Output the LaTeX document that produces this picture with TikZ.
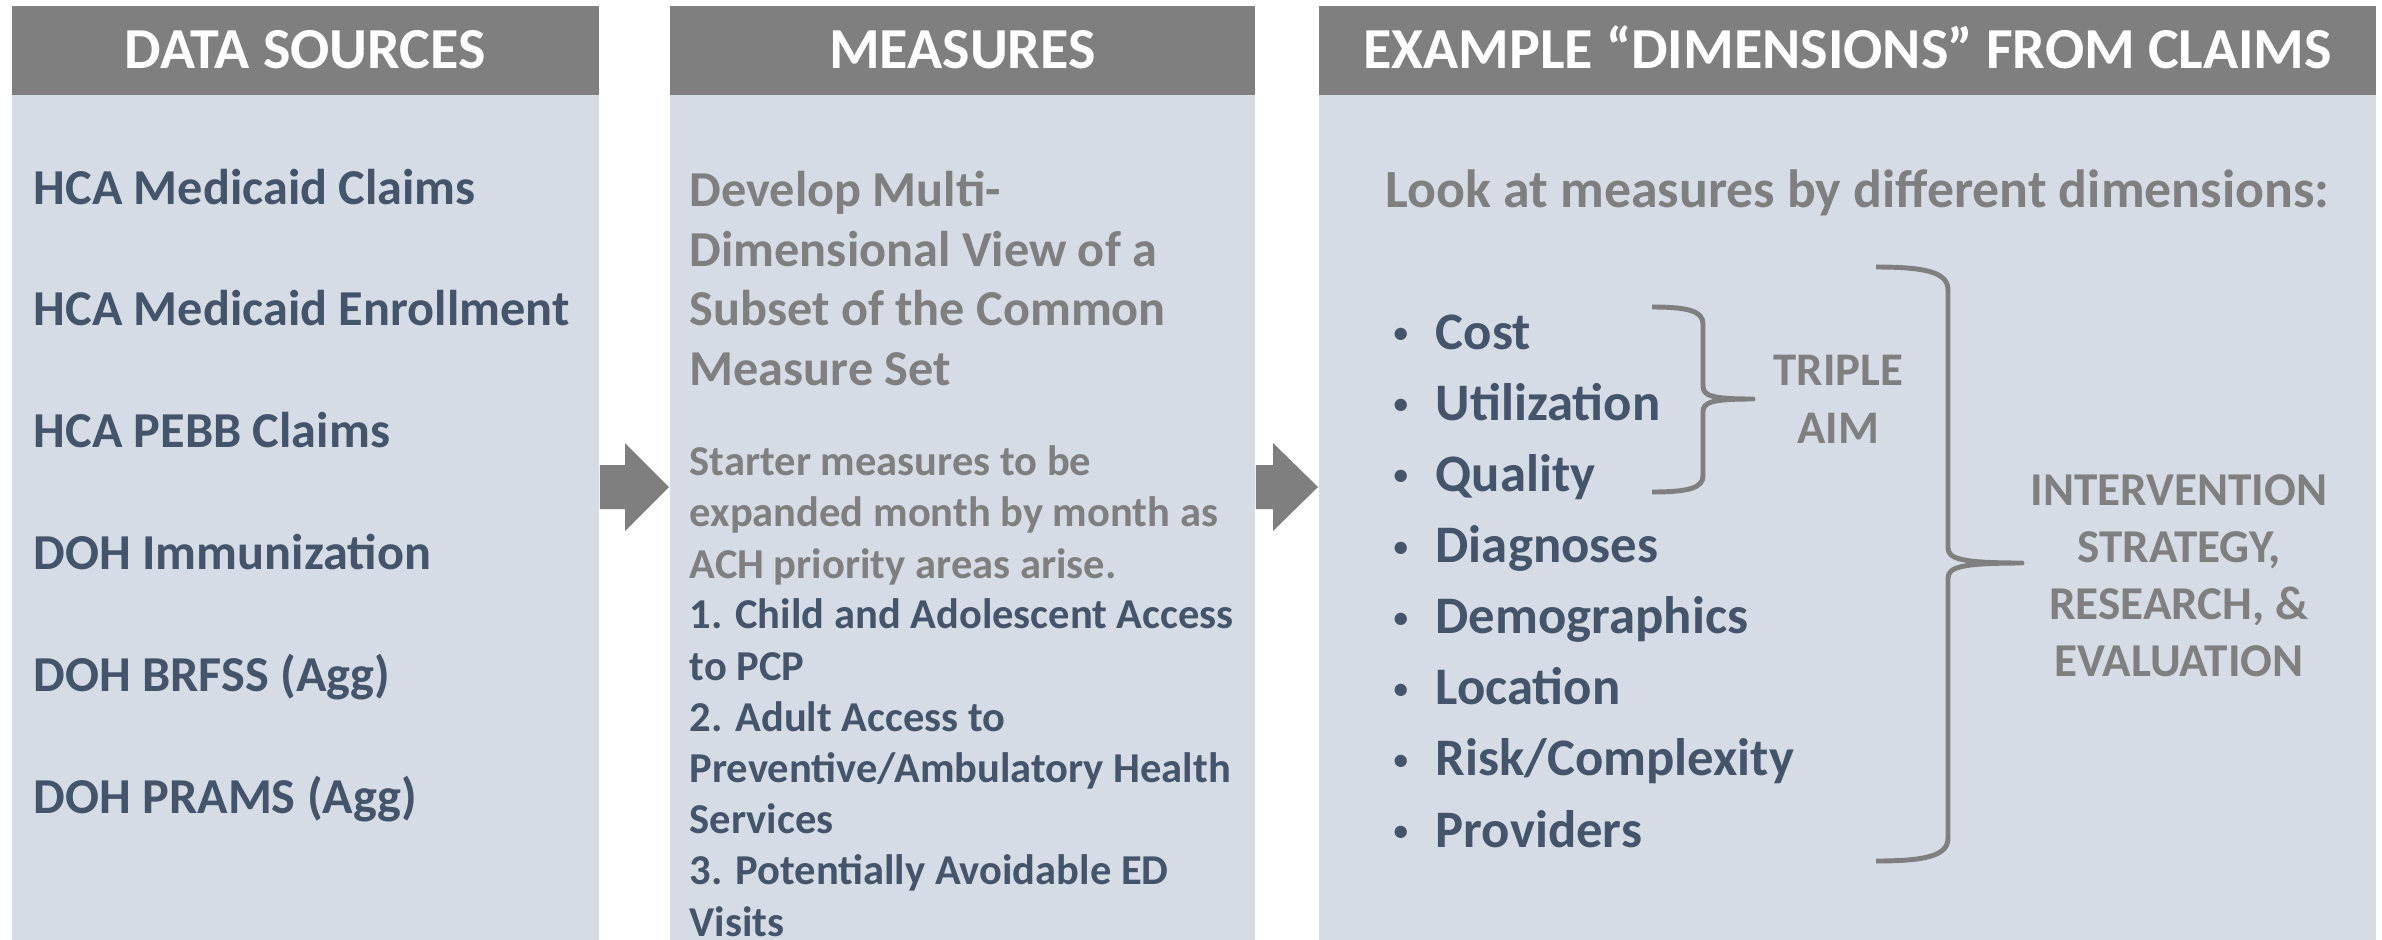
\documentclass[tikz,border=0pt]{standalone}
\usepackage{fontspec}
\setmainfont{Carlito}
\usetikzlibrary{positioning, calc}

\definecolor{headgray}{HTML}{7F7F7F}
\definecolor{panelblue}{HTML}{D6DCE5}
\definecolor{textblue}{HTML}{44546A}
\definecolor{textgray}{HTML}{7F7F7F}

\newcommand{\dimdot}{\makebox[0.42cm][l]{\raisebox{0.12em}{\scalebox{0.55}{\textbullet}}}}

\begin{document}
\begin{tikzpicture}[
    x=0.01cm, y=-0.01cm,
    header/.style={fill=headgray, text=white, font=\bfseries\fontsize{16.5}{20}\selectfont, anchor=north west, inner sep=0pt, minimum height=0.89cm, text height=0.37cm, text depth=0pt},
    panel/.style={fill=panelblue, anchor=north west, inner sep=0pt, minimum height=8.45cm},
    source/.style={text=textblue, font=\bfseries\fontsize{14.3}{17}\selectfont, inner sep=0pt, text height=0.36cm, text depth=0.1cm},
    measlead/.style={text=textgray, font=\bfseries\fontsize{14.3}{16.9}\selectfont, align=left, inner sep=0pt},
    measnote/.style={text=textgray, font=\bfseries\fontsize{12.1}{14.56}\selectfont, align=left, inner sep=0pt},
    measlist/.style={text=textblue, font=\bfseries\fontsize{12.1}{14.56}\selectfont, align=left, inner sep=0pt},
    dimitem/.style={text=textblue, font=\bfseries\fontsize{15}{18}\selectfont, inner sep=0pt, text height=0.38cm, text depth=0.12cm},
    aimlabel/.style={text=textgray, font=\bfseries\fontsize{13.3}{16.5}\selectfont, align=center, inner sep=0pt},
    blockarrow/.style={fill=headgray},
    bracket/.style={draw=headgray, line width=1.4pt, line join=round},
    node distance=0.745cm
]
    \useasboundingbox (0,0) rectangle (2382,939);

    % Panels
    \node[header, minimum width=5.87cm] (srchead) at (11,5) {DATA SOURCES};
    \node[panel, minimum width=5.87cm] (srcbody) at (11,94) {};
    \node[header, minimum width=5.85cm] (meashead) at (669,5) {MEASURES};
    \node[panel, minimum width=5.85cm] (measbody) at (669,94) {};
    \node[header, minimum width=10.57cm] (dimhead) at (1318,5) {EXAMPLE “DIMENSIONS” FROM CLAIMS};
    \node[panel, minimum width=10.57cm] (dimbody) at (1318,94) {};

    % Data sources
    \node[source, anchor=base west] (hcaclaims) at (33,204) {HCA Medicaid Claims};
    \node[source, below=of hcaclaims.south west, anchor=north west] (hcaenroll) {HCA Medicaid Enrollment};
    \node[source, below=of hcaenroll.south west, anchor=north west] (pebb) {HCA PEBB Claims};
    \node[source, below=of pebb.south west, anchor=north west] (immun) {DOH Immunization};
    \node[source, below=of immun.south west, anchor=north west] (brfss) {DOH BRFSS (Agg)};
    \node[source, below=of brfss.south west, anchor=north west] (prams) {DOH PRAMS (Agg)};

    % Measures (base = last line)
    \node[measlead, anchor=base west] (develop) at (689,385) {Develop Multi-\\Dimensional View of a\\Subset of the Common\\Measure Set};
    \node[measnote, anchor=base west] (starter) at (689,578) {Starter measures to be\\expanded month by month as\\ACH priority areas arise.};
    \node[measlist, anchor=base west] (starterlist) at (689,936) {1. Child and Adolescent Access\\to PCP\\2. Adult Access to\\Preventive/Ambulatory Health\\Services\\3. Potentially Avoidable ED\\Visits};

    % Dimensions
    \node[measlead, font=\bfseries\fontsize{15.3}{18}\selectfont, anchor=base west] (lookat) at (1385,207) {Look at measures by different dimensions:};
    \node[dimitem, anchor=base west] (cost) at (1393,349) {\dimdot Cost};
    \node[dimitem, below=0.197cm of cost.south west, anchor=north west] (util) {\dimdot Utilization};
    \node[dimitem, below=0.197cm of util.south west, anchor=north west] (quality) {\dimdot Quality};
    \node[dimitem, below=0.197cm of quality.south west, anchor=north west] (diag) {\dimdot Diagnoses};
    \node[dimitem, below=0.197cm of diag.south west, anchor=north west] (demog) {\dimdot Demographics};
    \node[dimitem, below=0.197cm of demog.south west, anchor=north west] (location) {\dimdot Location};
    \node[dimitem, below=0.197cm of location.south west, anchor=north west] (risk) {\dimdot Risk/Complexity};
    \node[dimitem, below=0.197cm of risk.south west, anchor=north west] (providers) {\dimdot Providers};

    % Braces
    \coordinate (aimtip) at (1753,399);
    \coordinate (usetip) at (2022,563);
    \draw[bracket] (1652,307) .. controls (1688,307) and (1703,311) .. (1703,324) -- (1703,386)
        .. controls (1703,396) and (1712,399) .. (aimtip) .. controls (1712,399) and (1703,402) .. (1703,412)
        -- (1703,476) .. controls (1703,488) and (1688,492) .. (1652,492);
    \draw[bracket] (1876,267) .. controls (1925,267) and (1948,272) .. (1948,290) -- (1948,548)
        .. controls (1948,559) and (1962,563) .. (usetip) .. controls (1962,563) and (1948,567) .. (1948,578)
        -- (1948,838) .. controls (1948,856) and (1925,861) .. (1876,861);
    \node[aimlabel, right=0.2cm of aimtip] (tripleaim) {TRIPLE\\AIM};
    \node[aimlabel, font=\bfseries\fontsize{13.4}{16.2}\selectfont, right=0.08cm of usetip, yshift=-0.13cm] (intervention) {INTERVENTION\\STRATEGY,\\RESEARCH, \&\\EVALUATION};

    % Block arrows between panels
    \fill[blockarrow] (srcbody.east |- 0,465) -| ($(measbody.west |- 0,443)+(-44,0)$) -- (measbody.west |- 0,487)
        -- ($(measbody.west |- 0,531)+(-44,0)$) |- (srcbody.east |- 0,509) -- cycle;
    \fill[blockarrow] (measbody.east |- 0,465) -| ($(dimbody.west |- 0,443)+(-45,0)$) -- (dimbody.west |- 0,487)
        -- ($(dimbody.west |- 0,531)+(-45,0)$) |- (measbody.east |- 0,509) -- cycle;
\end{tikzpicture}
\end{document}
